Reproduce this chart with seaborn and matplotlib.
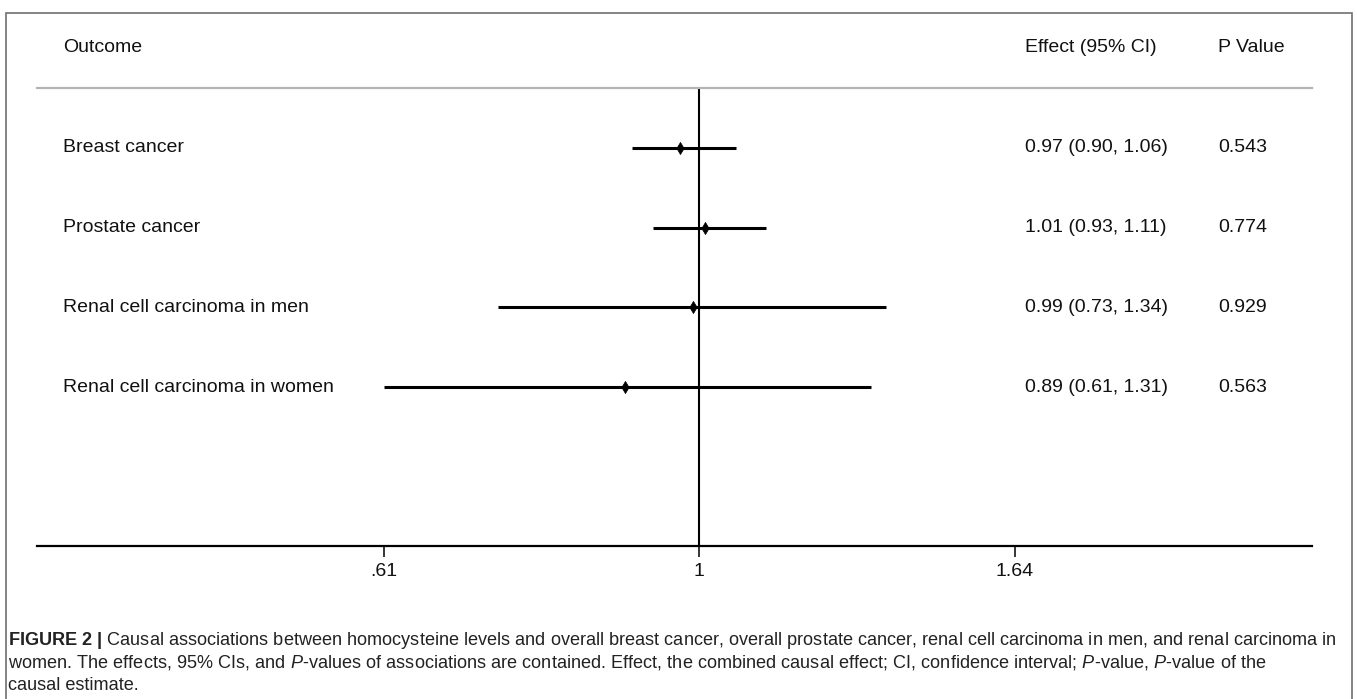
import matplotlib
matplotlib.use("Agg")
import matplotlib.pyplot as plt
import matplotlib.transforms as mtransforms
from matplotlib.patches import Rectangle
from matplotlib.ticker import FixedLocator, NullLocator
import seaborn as sns
import pandas as pd
import numpy as np

# data
outcomes = ["Breast cancer", "Prostate cancer",
            "Renal cell carcinoma in men", "Renal cell carcinoma in women"]
effect = [0.97, 1.01, 0.99, 0.89]
ci_low = [0.90, 0.93, 0.73, 0.61]
ci_high = [1.06, 1.11, 1.34, 1.31]
effect_labels = ["0.97 (0.90, 1.06)", "1.01 (0.93, 1.11)",
                 "0.99 (0.73, 1.34)", "0.89 (0.61, 1.31)"]
p_values = ["0.543", "0.774", "0.929", "0.563"]
x_ticks = [0.61, 1.0, 1.64]
x_ticklabels = [".61", "1", "1.64"]

caption = [
    r"$\mathbf{FIGURE\ 2\ |}$ Causal associations between homocysteine levels and overall breast cancer, "
    r"overall prostate cancer, renal cell carcinoma in men, and renal carcinoma in",
    r"women. The effects, 95% CIs, and $\mathit{P}$-values of associations are contained. Effect, the combined "
    r"causal effect; CI, confidence interval; $\mathit{P}$-value, $\mathit{P}$-value of the",
    "causal estimate.",
]

W, H = 1357, 699


def fx(px):
    return px / W


def fy(py):
    return 1 - py / H


sns.set_theme(style="white")
plt.rcParams["font.family"] = ["Liberation Sans", "DejaVu Sans"]
plt.rcParams["mathtext.fontset"] = "custom"
plt.rcParams["mathtext.rm"] = "Liberation Sans"
plt.rcParams["mathtext.it"] = "Liberation Sans:italic"
plt.rcParams["mathtext.bf"] = "Liberation Sans:bold"

df = pd.DataFrame({"outcome": outcomes, "effect": effect,
                   "low": ci_low, "high": ci_high})
df["row"] = np.arange(len(df))

fig = plt.figure(figsize=(W / 100, H / 100), dpi=100)
ax = fig.add_axes([fx(37), fy(546), fx(1312) - fx(37), fy(88) - fy(546)])

ax.hlines(df["row"], df["low"], df["high"], color="black", lw=2.2, zorder=2)
ax.axvline(1, color="black", lw=1.5, zorder=1)
sns.scatterplot(data=df, x="effect", y="row", marker="d", s=38,
                color="black", edgecolor="black", linewidth=0.5, ax=ax, zorder=3)

ax.set_xscale("log")
ax.set_xlim(0.3543, 2.614)
ax.set_ylim(4.99, -0.75)
ax.xaxis.set_major_locator(FixedLocator(x_ticks))
ax.xaxis.set_minor_locator(NullLocator())
ax.set_xticklabels(x_ticklabels)
ax.set_yticks([])
ax.set_xlabel("")
ax.set_ylabel("")
ax.tick_params(axis="x", bottom=True, direction="out", length=8, width=1.1,
               color="black", labelsize=14, pad=4, labelcolor="#111111")
for side in ["left", "right"]:
    ax.spines[side].set_visible(False)
ax.spines["top"].set_color("#b4b4b4")
ax.spines["top"].set_linewidth(1.6)
ax.spines["bottom"].set_color("black")
ax.spines["bottom"].set_linewidth(1.6)

# text columns, rows in data coordinates
row_tr = mtransforms.blended_transform_factory(fig.transFigure, ax.transData)
for i, r in df.iterrows():
    ax.text(fx(63), r["row"], r["outcome"], transform=row_tr, fontsize=14,
            va="center", ha="left", color="#111111")
    ax.text(fx(1025), r["row"], effect_labels[i], transform=row_tr, fontsize=14,
            va="center", ha="left", color="#111111")
    ax.text(fx(1218), r["row"], p_values[i], transform=row_tr, fontsize=14,
            va="center", ha="left", color="#111111")

fig.text(fx(63), fy(47), "Outcome", fontsize=14, va="center", ha="left", color="#111111")
fig.text(fx(1025), fy(47), "Effect (95% CI)", fontsize=14, va="center", ha="left", color="#111111")
fig.text(fx(1218), fy(47), "P Value", fontsize=14, va="center", ha="left", color="#111111")

# outer frame, open at the bottom edge
fig.patches.append(Rectangle((fx(6), fy(720)), fx(1352) - fx(6), fy(13) - fy(720),
                             transform=fig.transFigure, fill=False,
                             edgecolor="#707070", lw=1.2))

for k, line in enumerate(caption):
    fig.text(fx(8), fy(645 + 22.5 * k), line, fontsize=13.1, va="baseline", ha="left",
             color="#222222")

fig.savefig("out.png", dpi=100)
